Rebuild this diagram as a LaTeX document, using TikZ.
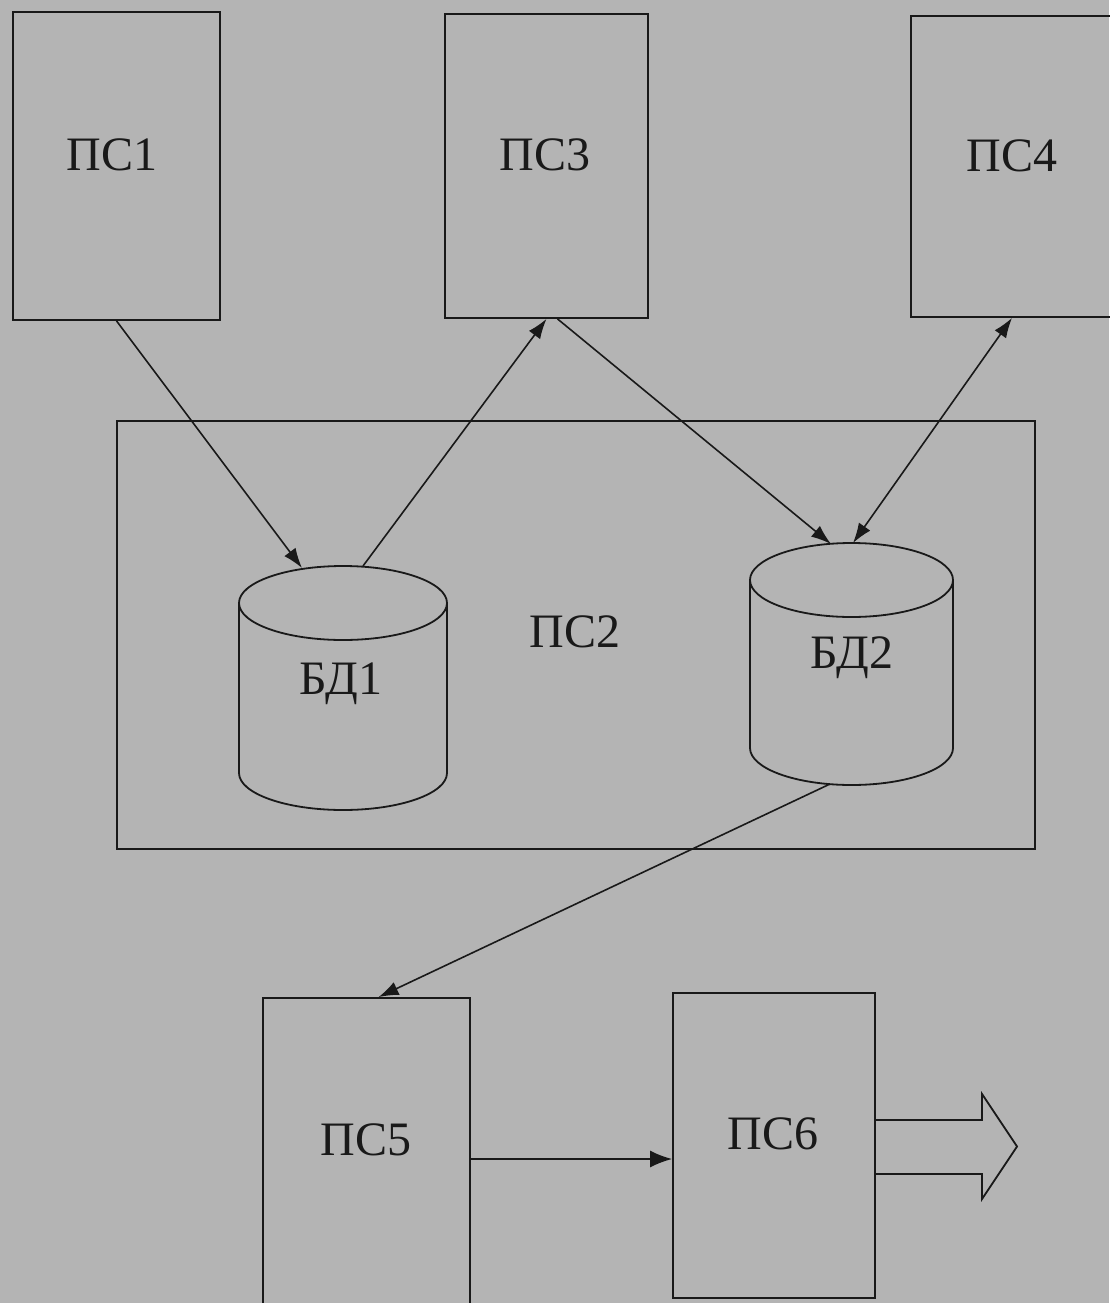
\documentclass[tikz,border=0pt]{standalone}
\usepackage{fontspec}
\setmainfont{Liberation Serif}
\usetikzlibrary{arrows.meta,calc}
\definecolor{bg}{RGB}{180,180,180}
\definecolor{ink}{RGB}{25,25,25}
\begin{document}
\begin{tikzpicture}[x=1pt,y=-1pt,
  box/.style={draw=ink, line width=1.8pt, rectangle, inner sep=0pt},
  lbl/.style={font=\fontsize{48}{50}\selectfont, text=ink, anchor=base, inner sep=0pt},
  ln/.style={draw=ink, line width=1.8pt},
  arr/.style={draw=ink, line width=1.6pt, -{Latex[length=20pt,width=14pt]}},
  arrb/.style={draw=ink, line width=1.6pt, {Latex[length=20pt,width=14pt]}-{Latex[length=20pt,width=14pt]}},
  arrh/.style={draw=ink, line width=1.6pt, -{Latex[length=22pt,width=17pt]}}
]
\fill[bg] (0,0) rectangle (1109,1303);
\useasboundingbox (0,0) rectangle (1109,1303);

% boxes
\node[box, minimum width=207pt, minimum height=308pt] (ps1) at (116.5,166) {};
\node[box, minimum width=203pt, minimum height=304pt] (ps3) at (546.5,166) {};
\node[box, minimum width=202pt, minimum height=301pt] (ps4) at (1012,166.5) {};
\node[box, minimum width=918pt, minimum height=428pt] (ps2) at (576,635) {};
\node[box, minimum width=207pt, minimum height=312pt] (ps5) at (366.5,1154) {};
\node[box, minimum width=202pt, minimum height=305pt] (ps6) at (774,1145.5) {};

% labels
\node[lbl] (t1) at (112,170) {ПС1};
\node[lbl] (t3) at (545,170) {ПС3};
\node[lbl] (t4) at (1012,171) {ПС4};
\node[lbl] (t2) at (575,647) {ПС2};
\node[lbl] (t5) at (366,1155) {ПС5};
\node[lbl] (t6) at (773,1149) {ПС6};

% cylinder БД1
\node[inner sep=0pt, minimum width=208pt, minimum height=244pt] (db1) at (343,688) {};
\draw[ln] (343,603) ellipse [x radius=104, y radius=37];
\draw[ln] (239,603) -- (239,773) .. controls (239,793.4) and (285.6,810) .. (343,810)
  .. controls (400.4,810) and (447,793.4) .. (447,773) -- (447,603);
\node[lbl] (tdb1) at (341,694) {БД1};

% cylinder БД2
\node[inner sep=0pt, minimum width=203pt, minimum height=242pt] (db2) at (851.5,664) {};
\draw[ln] (851.5,580) ellipse [x radius=101.5, y radius=37];
\draw[ln] (750,580) -- (750,748) .. controls (750,768.4) and (795.4,785) .. (851.5,785)
  .. controls (907.6,785) and (953,768.4) .. (953,748) -- (953,580);
\node[lbl] (tdb2) at (852,668) {БД2};

% connection points on the cylinders
\coordinate (db1in) at (302,568);
\coordinate (db1out) at (363,566);
\coordinate (db2in) at (831,544);
\coordinate (db2io) at (853,543);
\coordinate (db2bot) at (830,784);
\coordinate (ps3out) at ($(ps3.south)+(11,0)$);
\coordinate (ps5in) at ($(ps5.north)+(12,0)$);
\coordinate (hline) at (0,1159);

% connectors
\draw[arr] (ps1.south) -- (db1in);
\draw[arr] (db1out) -- (ps3.south);
\draw[arr] (ps3out) -- (db2in);
\draw[arrb] (db2io) -- (ps4.south);
\draw[arr] (db2bot) -- (ps5in);
\draw[arrh] (ps5.east |- hline) -- (ps6.west |- hline);

% outgoing block arrow
\draw[ln, line join=miter] (ps6.east |- 0,1120) -- (982,1120) -- (982,1094) -- (1017,1146.5)
  -- (982,1199) -- (982,1174) -- (ps6.east |- 0,1174);
\end{tikzpicture}
\end{document}
